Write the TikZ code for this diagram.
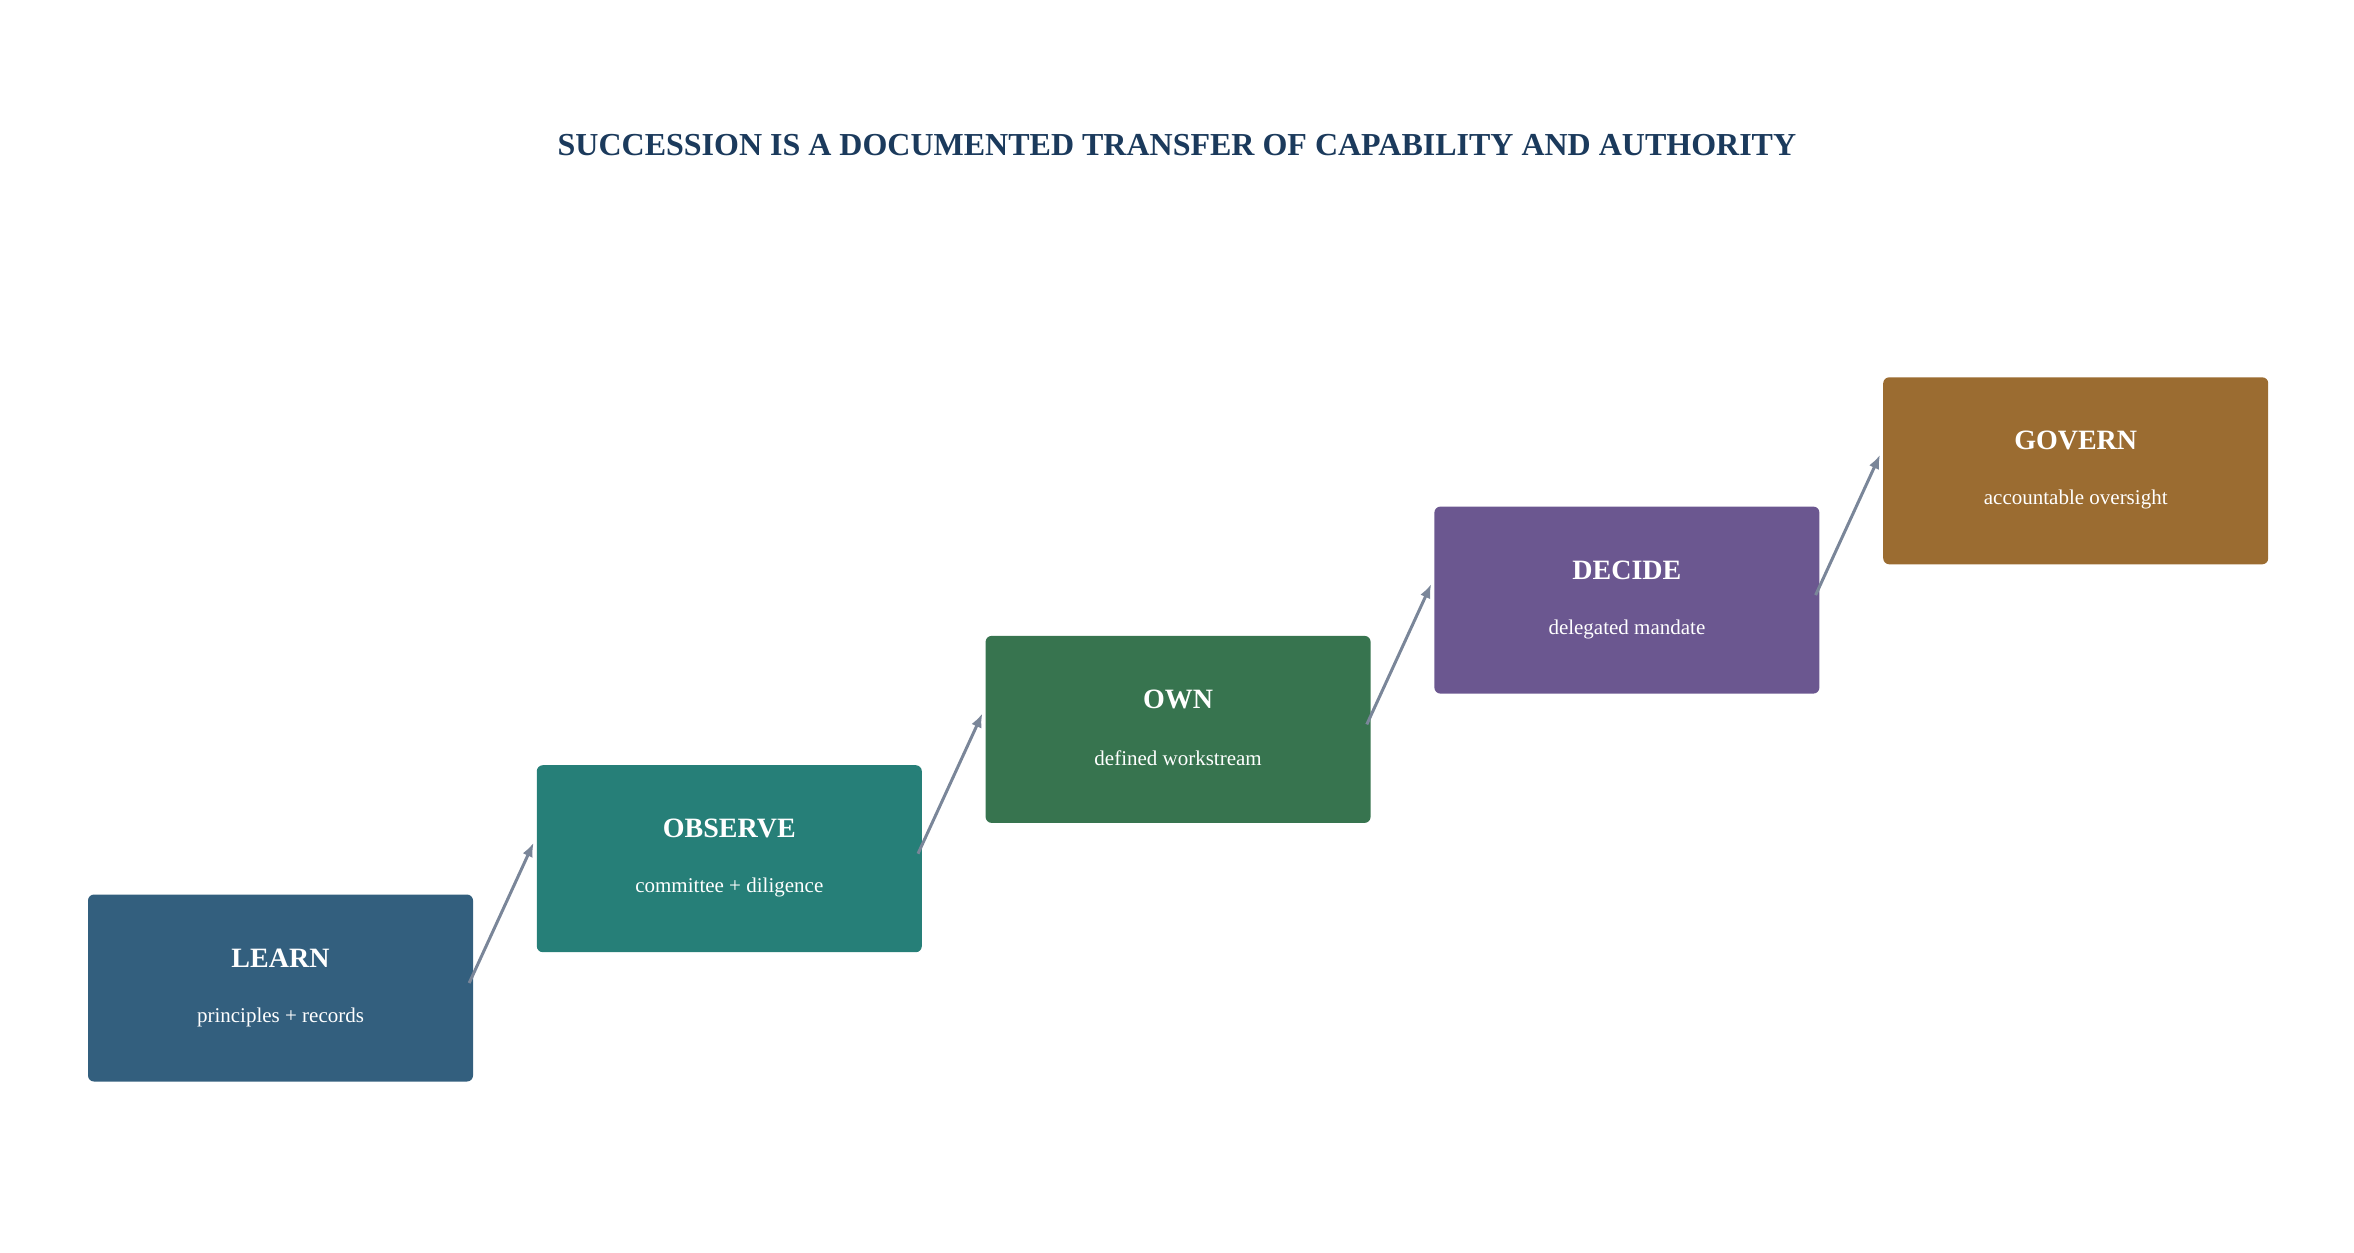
\documentclass[tikz,border=0pt]{standalone}
\usepackage{fontspec}
\setmainfont{Liberation Serif}
\usetikzlibrary{calc}
\definecolor{cA}{HTML}{335F7E}
\definecolor{cB}{HTML}{267F78}
\definecolor{cC}{HTML}{37744F}
\definecolor{cD}{HTML}{6B5790}
\definecolor{cE}{HTML}{9B6C31}
\definecolor{ttl}{HTML}{1B3A5C}
\definecolor{arr}{HTML}{7A8699}
\begin{document}
\begin{tikzpicture}[x=1pt,y=-1pt,
  box/.style={rounded corners=6pt,minimum width=385pt,minimum height=187pt,inner sep=0pt},
  hd/.style={text=white,font=\fontsize{28}{32}\selectfont\bfseries},
  sb/.style={text=white,font=\fontsize{21}{25}\selectfont},
  con/.style={draw=arr,line width=3pt,-{Latex[length=14pt,width=11pt]}}]
\usetikzlibrary{arrows.meta}
\useasboundingbox (0,0) rectangle (2354,1253);
\node[text=ttl,font=\fontsize{32}{36}\selectfont\bfseries] (title) at (1177,145) {SUCCESSION IS A DOCUMENTED TRANSFER OF CAPABILITY AND AUTHORITY};
\foreach \n/\c/\h/\s [count=\i from 0] in {a/cA/LEARN/principles + records,b/cB/OBSERVE/committee + diligence,c/cC/OWN/defined workstream,d/cD/DECIDE/delegated mandate,e/cE/GOVERN/accountable oversight}{
  \node[box,fill=\c] (\n) at ({280.5+448.8*\i},{988-129.3*\i}) {};
  \node[hd] (\n h) at ($(\n)+(0,-30)$) {\h};
  \node[sb] (\n s) at ($(\n)+(0,29)$) {\s};
}
\foreach \p/\q in {a/b,b/c,c/d,d/e}{
  \draw[con] ($(\p.east)+(-4,-5)$) -- ($(\q.west)+(-3,-16)$);
}
\end{tikzpicture}
\end{document}
